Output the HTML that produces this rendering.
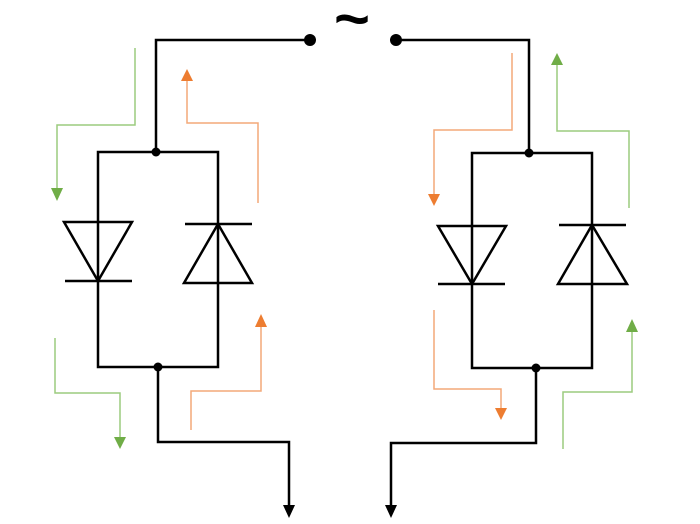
<!DOCTYPE html>
<html><head><meta charset="utf-8"><style>html,body{margin:0;padding:0;background:#fff}svg{display:block}</style></head>
<body>
<svg width="700" height="524" viewBox="0 0 700 524" xmlns="http://www.w3.org/2000/svg">
<text x="352" y="39" text-anchor="middle" font-family="Liberation Sans, sans-serif" font-weight="bold" font-size="58" textLength="36" lengthAdjust="spacingAndGlyphs">~</text>
<g fill="none" stroke="#000" stroke-width="2.5">
<polyline points="310,40 156,40 156,152"/>
<rect x="98" y="152" width="120" height="215"/>
<polyline points="158,367 158,442 289,442 289,505"/>
<polygon points="64,222 132,222 98,281"/>
<line x1="65" y1="281" x2="132" y2="281"/>
<polygon points="184,283 252,283 218,224"/>
<line x1="185" y1="224" x2="252" y2="224"/>
<polyline points="396,40 529,40 529,153"/>
<rect x="472" y="153" width="120" height="215"/>
<polyline points="536,368 536,443 391,443 391,505"/>
<polygon points="438,226 506,226 472,284"/>
<line x1="438" y1="284" x2="505" y2="284"/>
<polygon points="558,284 627,284 592,225"/>
<line x1="559" y1="225" x2="626" y2="225"/>
</g>
<g fill="#000">
<circle cx="310" cy="40" r="6"/><circle cx="396" cy="40" r="6"/>
<circle cx="156" cy="152" r="4.5"/><circle cx="158" cy="367" r="4.5"/>
<circle cx="529" cy="153" r="4.5"/><circle cx="536" cy="368" r="4.5"/>
<polygon points="283,505 295,505 289,518"/>
<polygon points="385,505 397,505 391,518"/>
</g>
<g fill="none" stroke-width="1.5">
<polyline stroke="#9ccc7e" points="135,48 135,125 57,125 57,188"/>
<polyline stroke="#f4a978" points="258,203 258,123 187,123 187,80"/>
<polyline stroke="#9ccc7e" points="55,338 55,393 120,393 120,437"/>
<polyline stroke="#f4a978" points="191,430 191,391 261,391 261,327"/>
<polyline stroke="#f4a978" points="512,53 512,130 434,130 434,194"/>
<polyline stroke="#9ccc7e" points="629,208 629,131 557,131 557,64"/>
<polyline stroke="#f4a978" points="434,310 434,389 501,389 501,408"/>
<polyline stroke="#9ccc7e" points="563,449 563,392 632,392 632,332"/>
</g>
<g>
<polygon fill="#70ad47" points="51,188 63,188 57,201"/>
<polygon fill="#ed7d31" points="181,81 193,81 187,69"/>
<polygon fill="#70ad47" points="114,437 126,437 120,449"/>
<polygon fill="#ed7d31" points="255,327 267,327 261,314"/>
<polygon fill="#ed7d31" points="428,194 440,194 434,206"/>
<polygon fill="#70ad47" points="551,65 563,65 557,53"/>
<polygon fill="#ed7d31" points="495,408 507,408 501,420"/>
<polygon fill="#70ad47" points="626,332 638,332 632,319"/>
</g>
</svg>
</body></html>
